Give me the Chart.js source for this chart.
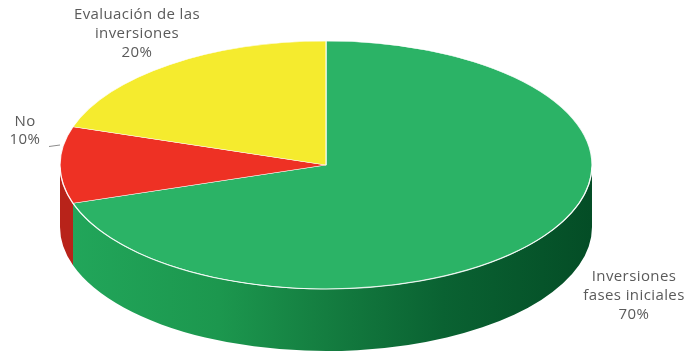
<!DOCTYPE html>
<html>
<head>
<meta charset="utf-8">
<script src="https://cdn.jsdelivr.net/npm/chart.js@4.4.1/dist/chart.umd.min.js"></script>
<style>
html,body{margin:0;padding:0;background:#ffffff;}
#wrap{width:691px;height:354px;position:relative;}
</style>
</head>
<body>
<div id="wrap"><canvas id="c" width="691" height="354"></canvas></div>
<script>
// ---- data ----
const categories = ['Inversiones fases iniciales', 'No', 'Evaluación de las inversiones'];
const values = [70, 10, 20];
const labelNameLines = [['Inversiones', 'fases iniciales'], ['No'], ['Evaluación de las', 'inversiones']];

// ---- styles ----
const topColors = ['#2bb366', '#ee3124', '#f5eb2e'];

const total = values.reduce((a, b) => a + b, 0);
const pctText = values.map(v => Math.round(v / total * 100) + '%');

function sideFill(ctx, i, g) {
  if (i === 0) {
    const grad = ctx.createLinearGradient(g.cx - g.rx, 0, g.cx + g.rx, 0);
    grad.addColorStop(0, '#22a75b');
    grad.addColorStop(0.3, '#1c974e');
    grad.addColorStop(0.5, '#147d40');
    grad.addColorStop(0.72, '#0a6232');
    grad.addColorStop(1, '#044d26');
    return grad;
  }
  if (i === 1) return '#b8231a';
  return '#c9bf1f';
}

const pie3d = {
  id: 'pie3d',
  beforeDatasetsDraw(chart, args, g) {
    const ctx = chart.ctx;
    const meta = chart.getDatasetMeta(0);
    // extruded side (front half only)
    meta.data.forEach((arc, i) => {
      const s = arc.startAngle, e = arc.endAngle;
      for (let k = -1; k <= 1; k++) {
        const lo = Math.max(s, 2 * Math.PI * k);
        const hi = Math.min(e, Math.PI + 2 * Math.PI * k);
        if (hi > lo) {
          ctx.beginPath();
          ctx.ellipse(g.cx, g.cy, g.rx, g.ry, 0, lo, hi);
          ctx.ellipse(g.cx, g.cy + g.depth, g.rx, g.ry, 0, hi, lo, true);
          ctx.closePath();
          ctx.fillStyle = sideFill(ctx, i, g);
          ctx.fill();
        }
      }
    });
    const a = meta.data[0];
    ctx.save();
    ctx.translate(g.cx, g.cy);
    ctx.scale(g.rx / a.outerRadius, g.ry / a.outerRadius);
    ctx.translate(-a.x, -a.y);
  },
  afterDatasetsDraw(chart, args, g) {
    const ctx = chart.ctx;
    ctx.restore();
    // light rim along the front edge of the top face
    ctx.save();
    ctx.beginPath();
    ctx.ellipse(g.cx, g.cy, g.rx, g.ry, 0, 0.02, Math.PI - 0.02);
    ctx.strokeStyle = 'rgba(255,255,255,0.75)';
    ctx.lineWidth = 1.2;
    ctx.stroke();
    ctx.restore();
  },
  afterDraw(chart, args, g) {
    const ctx = chart.ctx;
    ctx.save();
    ctx.fillStyle = '#5a5a5a';
    ctx.font = '15px "Open Sans"';
    if ('letterSpacing' in ctx) ctx.letterSpacing = '0.4px';
    ctx.textAlign = 'center';
    ctx.textBaseline = 'middle';
    g.labels.forEach((L, i) => {
      const lines = labelNameLines[i].concat([pctText[i]]);
      lines.forEach((t, j) => ctx.fillText(t, L.x, L.y + j * L.lh));
    });
    // leader line for "No"
    ctx.beginPath();
    ctx.moveTo(49, 146.5);
    ctx.lineTo(60, 145);
    ctx.strokeStyle = '#8c8c8c';
    ctx.lineWidth = 1;
    ctx.stroke();
    ctx.restore();
  }
};

new Chart(document.getElementById('c'), {
  type: 'pie',
  data: {
    labels: categories,
    datasets: [{
      data: values,
      backgroundColor: topColors,
      borderColor: 'rgba(255,255,255,0.85)',
      borderWidth: 0.8,
      clip: false
    }]
  },
  options: {
    responsive: false,
    animation: false,
    events: [],
    layout: { padding: 0 },
    plugins: {
      legend: { display: false },
      tooltip: { enabled: false },
      pie3d: {
        cx: 326, cy: 165, rx: 266, ry: 124, depth: 62,
        labels: [
          { x: 634, y: 277, lh: 19 },
          { x: 25, y: 122, lh: 18 },
          { x: 137, y: 15, lh: 19 }
        ]
      }
    }
  },
  plugins: [pie3d]
});
</script>
</body>
</html>
